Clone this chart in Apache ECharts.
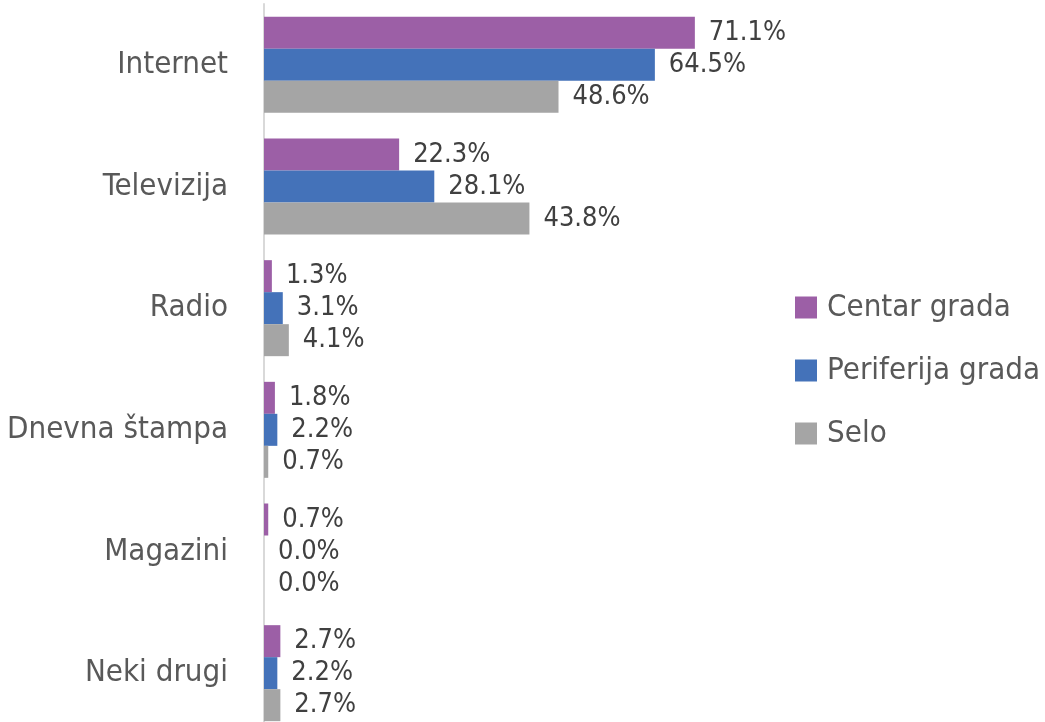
<!DOCTYPE html>
<html>
<head>
<meta charset="utf-8">
<script src="https://cdn.jsdelivr.net/npm/echarts@6/dist/echarts.min.js"></script>
<style>
  html, body { margin: 0; padding: 0; background: #fff; }
  #main { width: 1045px; height: 722px; }
</style>
</head>
<body>
<div id="main"></div>
<script>
var categories = ['Internet', 'Televizija', 'Radio', 'Dnevna štampa', 'Magazini', 'Neki drugi'];
var centar = [71.1, 22.3, 1.3, 1.8, 0.7, 2.7];
var periferija = [64.5, 28.1, 3.1, 2.2, 0.0, 2.2];
var selo = [48.6, 43.8, 4.1, 0.7, 0.0, 2.7];

var font = '"DejaVu Sans Condensed", "Liberation Sans Narrow", sans-serif';

var myChart = echarts.init(document.getElementById('main'));

function barSeries(name, data, color) {
  return {
    name: name,
    type: 'bar',
    data: data,
    barWidth: 32,
    barGap: '0%',
    itemStyle: { color: color },
    label: {
      show: true,
      position: 'right',
      distance: 14,
      color: '#404040',
      fontFamily: font,
      fontSize: 27,
      formatter: function (p) { return p.value.toFixed(1) + '%'; }
    }
  };
}

var option = {
  animation: false,
  legend: {
    orient: 'vertical',
    left: 795,
    top: 292,
    padding: 0,
    itemWidth: 22,
    itemHeight: 22,
    itemGap: 32,
    icon: 'rect',
    textStyle: { color: '#595959', fontFamily: font, fontSize: 31, padding: [0, 0, 0, 5] }
  },
  grid: { left: 264, top: 4, width: 606, height: 730, outerBoundsMode: 'none', containLabel: false },
  xAxis: {
    type: 'value',
    min: 0,
    max: 100,
    show: false
  },
  yAxis: {
    type: 'category',
    data: categories,
    inverse: true,
    axisLine: { show: true, lineStyle: { color: '#D9D9D9', width: 2 } },
    axisTick: { show: false },
    axisLabel: { color: '#595959', fontFamily: font, fontSize: 31, margin: 36 }
  },
  series: [
    barSeries('Centar grada', centar, '#9C5FA6'),
    barSeries('Periferija grada', periferija, '#4472B9'),
    barSeries('Selo', selo, '#A5A5A5')
  ]
};

myChart.setOption(option);
</script>
</body>
</html>
